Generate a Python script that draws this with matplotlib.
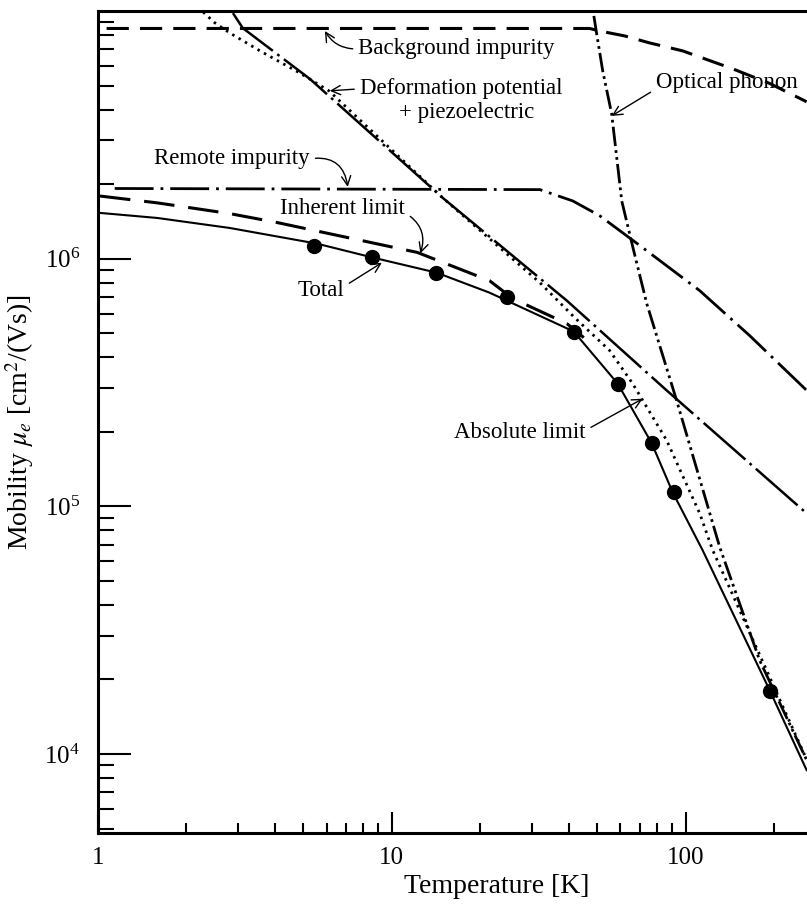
import matplotlib
matplotlib.use('Agg')
import matplotlib.pyplot as plt
from matplotlib.ticker import FixedLocator, LogLocator, NullFormatter

plt.rcParams['font.family'] = ['Liberation Serif', 'DejaVu Serif']
plt.rcParams['mathtext.fontset'] = 'stix'
plt.rcParams['lines.scale_dashes'] = False

# courbes (T en K, mobilité en cm2/Vs)
bg_T = [1.07, 20, 47.1, 51.0, 62.0, 75.4, 97.7, 144.5, 193, 258]
bg_mu = [8.5e6, 8.5e6, 8.5e6, 8.3e6, 7.93e6, 7.43e6, 6.9e6, 5.84e6, 5.1e6, 4.3e6]

dp_T = [2.88, 3.11, 5.26, 14.9, 39.4, 86.1, 258]
dp_mu = [9.8e6, 8.53e6, 5.32e6, 1.76e6, 6.77e5, 2.94e5, 9.37e4]

op_T = [48.7, 49.8, 52.2, 56.0, 60.6, 66.5, 73.7, 93.1, 130.6, 178.5, 258]
op_mu = [9.55e6, 8.07e6, 5.73e6, 3.84e6, 1.71e6, 1.08e6, 6.59e5, 2.68e5, 6.84e4, 2.39e4, 9.46e3]

rm_T = [1.14, 31.9, 41.3, 51.0, 69.8, 111.6, 165.1, 258]
rm_mu = [1.92e6, 1.90e6, 1.71e6, 1.49e6, 1.13e6, 7.43e5, 4.89e5, 2.94e5]

in_T = [1.016, 1.59, 2.81, 4.06, 12.2, 21.5, 25.8, 39.4, 45.0]
in_mu = [1.79e6, 1.68e6, 1.52e6, 1.40e6, 1.06e6, 8.15e5, 6.9e5, 5.47e5, 4.8e5]

ab_T = [2.28, 2.50, 2.81, 3.56, 4.86, 6.11, 14.9, 31.9, 41.9, 55.1, 66.0, 86.1, 111.6, 123.6, 258]
ab_mu = [9.9e6, 8.95e6, 8.15e6, 6.9e6, 5.62e6, 4.76e6, 1.76e6, 8.0e5, 5.78e5, 4.26e5, 3.13e5,
         1.85e5, 9.37e4, 6.65e4, 9.5e3]

tot_T = [1.016, 1.59, 2.81, 5.56, 8.62, 14.2, 21.5, 41.6, 58.7, 76.6, 90.3, 114.2, 193.1, 258]
tot_mu = [1.53e6, 1.46e6, 1.33e6, 1.15e6, 1.01e6, 8.78e5, 7.29e5, 5.08e5, 3.13e5, 1.80e5,
          1.14e5, 6.65e4, 1.81e4, 8.61e3]

exp_T = [5.43, 8.55, 14.1, 24.6, 41.6, 58.7, 76.6, 91.0, 193]
exp_mu = [1.13e6, 1.02e6, 8.78e5, 7.03e5, 5.08e5, 3.13e5, 1.80e5, 1.14e5, 1.79e4]

x_ticks = [1, 10, 100]
x_labels = ['1', '10', '100']
y_ticks = [1e4, 1e5, 1e6]

fig = plt.figure(figsize=(8.07, 9.07), dpi=100)
ax = fig.add_axes([0.1214, 0.0816, 0.902, 0.9063])
ax.set_xscale('log')
ax.set_yscale('log')

ax.plot(bg_T, bg_mu, color='black', lw=2.2, dashes=(16, 8))
ax.plot(dp_T, dp_mu, color='black', lw=1.8, dashes=(40, 4, 2, 4))
ax.plot(op_T, op_mu, color='black', lw=2.0, dashes=(14, 3, 2, 3, 2, 3))
ax.plot(rm_T, rm_mu, color='black', lw=2.0, dashes=(28, 5, 2, 5))
ax.plot(in_T, in_mu, color='black', lw=2.2, dashes=(22, 10))
ax.plot(ab_T, ab_mu, color='black', lw=2.0, dashes=(1.8, 3.5))
ax.plot(tot_T, tot_mu, color='black', lw=1.5)
ax.plot(exp_T, exp_mu, 'o', color='black', ms=10)

ax.set_xlim(1, 300)
ax.set_ylim(4.8e3, 1e7)

ax.xaxis.set_major_locator(FixedLocator(x_ticks))
ax.set_xticklabels(x_labels)
ax.xaxis.set_minor_locator(LogLocator(base=10, subs=range(2, 10)))
ax.xaxis.set_minor_formatter(NullFormatter())
ax.yaxis.set_major_locator(FixedLocator(y_ticks))
ax.yaxis.set_minor_locator(LogLocator(base=10, subs=range(2, 10)))
ax.yaxis.set_minor_formatter(NullFormatter())

ax.tick_params(which='both', direction='in', top=False, right=False, width=1.5, labelsize=18)
ax.tick_params(axis='y', which='major', length=24, pad=13)
ax.tick_params(axis='y', which='minor', length=11.5)
ax.tick_params(axis='x', which='major', length=15, pad=10)
ax.tick_params(axis='x', which='minor', length=7)
for s in ax.spines.values():
    s.set_linewidth(2.2)

ax.set_xlabel('Temperature [K]', fontsize=20)
ax.xaxis.set_label_coords(0.548, -0.050)
ax.set_ylabel(r'Mobility $\mu_e$ [cm$^2$/(Vs)]', fontsize=20, labelpad=6)

fs = 16.5
arr = dict(arrowstyle='->', lw=1.0, color='black', shrinkA=2, shrinkB=0)
ax.annotate('Background impurity', xy=(5.92, 8.3e6), xytext=(16.6, 7.03e6), fontsize=fs,
            ha='center', va='center',
            arrowprops=dict(arr, relpos=(0, 0.5), connectionstyle='arc3,rad=-0.3'))
ax.annotate('Deformation potential', xy=(6.15, 4.76e6), xytext=(7.78, 4.85e6), fontsize=fs,
            ha='left', va='center', arrowprops=dict(arr, relpos=(0, 0.5)))
ax.text(18.0, 3.88e6, '+ piezoelectric', fontsize=fs, ha='center', va='center')
ax.annotate('Optical phonon', xy=(56.0, 3.77e6), xytext=(137.8, 5.13e6), fontsize=fs,
            ha='center', va='center', arrowprops=dict(arr, relpos=(0, 0.2)))
ax.annotate('Remote impurity', xy=(7.08, 1.95e6), xytext=(2.86, 2.53e6), fontsize=fs,
            ha='center', va='center',
            arrowprops=dict(arr, relpos=(1, 0.5), connectionstyle='arc3,rad=-0.5'))
ax.annotate('Inherent limit', xy=(12.5, 1.05e6), xytext=(6.81, 1.59e6), fontsize=fs,
            ha='center', va='center',
            arrowprops=dict(arr, relpos=(1, 0.3), connectionstyle='arc3,rad=-0.4'))
ax.annotate('Total', xy=(9.25, 9.63e5), xytext=(5.73, 7.43e5), fontsize=fs,
            ha='center', va='center', arrowprops=dict(arr, relpos=(1, 0.7)))
ax.annotate('Absolute limit', xy=(71.4, 2.72e5), xytext=(27.3, 1.99e5), fontsize=fs,
            ha='center', va='center', arrowprops=dict(arr, relpos=(1, 0.6)))

fig.savefig('out.png', dpi=100)
